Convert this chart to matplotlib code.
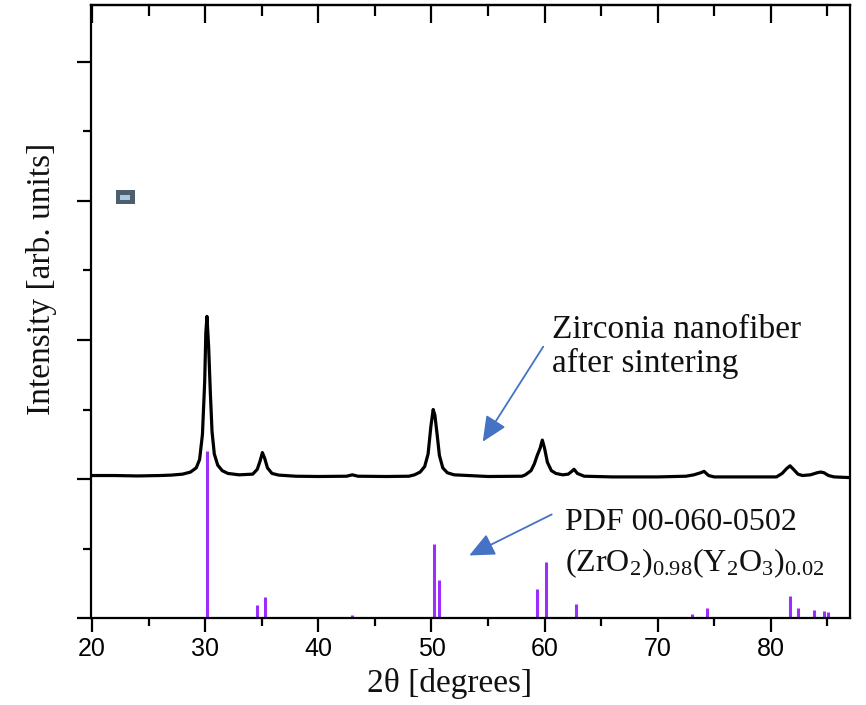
import matplotlib

matplotlib.use("Agg")
import matplotlib.pyplot as plt  # noqa: E402
from matplotlib.patches import Rectangle  # noqa: E402
from matplotlib.ticker import MultipleLocator  # noqa: E402

two_theta = [
    19.9, 22.0, 24.0, 26.0, 27.0, 28.0, 28.7, 29.2, 29.5, 29.75, 29.95, 30.05,
    30.15, 30.3, 30.45, 30.6, 30.8, 31.1, 31.5, 32.0, 33.0, 34.2, 34.6, 34.85,
    35.05, 35.25, 35.5, 35.9, 36.5, 38.0, 40.0, 42.5, 43.0, 43.5, 46.0, 48.0,
    48.5, 49.0, 49.4, 49.7, 49.95, 50.15, 50.3, 50.5, 50.7, 51.0, 51.4, 52.0,
    55.0, 58.0, 58.3, 58.8, 59.1, 59.35, 59.6, 59.8, 60.0, 60.25, 60.6, 61.0,
    61.6, 62.1, 62.4, 62.6, 62.9, 63.5, 66.0, 70.0, 72.5, 73.2, 73.8, 74.1,
    74.5, 75.0, 78.0, 80.5, 81.0, 81.4, 81.7, 82.0, 82.4, 82.8, 83.5, 84.1,
    84.4, 84.7, 85.1, 85.6, 87.0,
]
intensity = [
    1.025, 1.025, 1.022, 1.025, 1.028, 1.035, 1.05, 1.08, 1.14, 1.32, 1.70, 2.05,
    2.17, 1.95, 1.62, 1.34, 1.18, 1.10, 1.06, 1.04, 1.03, 1.035, 1.07, 1.13,
    1.19, 1.15, 1.08, 1.04, 1.028, 1.02, 1.018, 1.02, 1.03, 1.02, 1.018, 1.02,
    1.03, 1.05, 1.09, 1.18, 1.38, 1.50, 1.46, 1.32, 1.17, 1.08, 1.045, 1.03,
    1.018, 1.02, 1.03, 1.06, 1.11, 1.17, 1.22, 1.28, 1.22, 1.12, 1.06, 1.04,
    1.03, 1.035, 1.055, 1.07, 1.04, 1.02, 1.015, 1.015, 1.02, 1.03, 1.045, 1.055,
    1.025, 1.015, 1.015, 1.015, 1.04, 1.075, 1.095, 1.07, 1.035, 1.025, 1.03, 1.045,
    1.05, 1.045, 1.025, 1.015, 1.01,
]

# Reference pattern PDF 00-060-0502 stick positions and heights
pdf_pos = [30.15, 34.6, 35.3, 43.0, 50.25, 50.7, 59.3, 60.1, 62.8, 73.0,
           74.4, 81.7, 82.4, 83.8, 84.7, 85.1]
pdf_height = [1.20, 0.09, 0.15, 0.02, 0.53, 0.27, 0.21, 0.40, 0.10, 0.03,
              0.07, 0.16, 0.07, 0.06, 0.05, 0.04]

serif = ["Liberation Serif", "DejaVu Serif"]
sans = ["Liberation Sans Narrow", "Liberation Sans", "DejaVu Sans"]
plt.rcParams["mathtext.fontset"] = "custom"
plt.rcParams["mathtext.rm"] = "Liberation Serif"
plt.rcParams["mathtext.it"] = "Liberation Serif:italic"

arrow_blue = "#4472c4"
text_col = "#111111"

fig = plt.figure(figsize=(8.66, 7.05), dpi=100)
ax = fig.add_axes([0.1051, 0.1234, 0.8764, 0.8695])

ax.vlines(pdf_pos, 0, pdf_height, color="#9b2dff", linewidth=2.2)
ax.plot(two_theta, intensity, color="black", linewidth=2.3,
        solid_joinstyle="round")

ax.set_xlim(19.9, 87.0)
ax.set_ylim(0, 4.41)

ax.xaxis.set_major_locator(MultipleLocator(10))
ax.xaxis.set_minor_locator(MultipleLocator(5))
ax.yaxis.set_major_locator(MultipleLocator(1))
ax.yaxis.set_minor_locator(MultipleLocator(0.5))
ax.tick_params(axis="both", which="major", direction="out", length=10, width=1.6)
ax.tick_params(axis="both", which="minor", direction="out", length=6, width=1.6)
ax.tick_params(axis="y", labelleft=False, right=False)
ax.tick_params(axis="x", labelsize=18, pad=4)
for lab in ax.get_xticklabels():
    lab.set_family(sans)

top = ax.secondary_xaxis("top")
top.xaxis.set_major_locator(MultipleLocator(10))
top.xaxis.set_minor_locator(MultipleLocator(5))
top.tick_params(which="major", direction="in", length=13, width=1.6, labeltop=False)
top.tick_params(which="minor", direction="in", length=8, width=1.6)

for sp in ax.spines.values():
    sp.set_linewidth(1.6)
top.spines["top"].set_linewidth(1.6)

ax.set_xlabel("2θ [degrees]", family=serif, fontsize=24, color=text_col)
ax.xaxis.set_label_coords(0.473, -0.082)
ax.set_ylabel("Intensity [arb. units]", family=serif, fontsize=24, color=text_col)
ax.yaxis.set_label_coords(-0.045, 0.553)

# stray legend marker in the original
ax.add_patch(Rectangle((22.1, 2.978), 1.69, 0.101, facecolor="#4d5e6c",
                       edgecolor="none", zorder=3))
ax.add_patch(Rectangle((22.5, 3.01), 0.88, 0.036, facecolor="#a9c9e2",
                       edgecolor="none", zorder=4))

arrow = dict(arrowstyle="-|>,head_length=1.1,head_width=0.5", color=arrow_blue,
             lw=1.3, shrinkA=0, shrinkB=0, mutation_scale=14)
ax.annotate("", xy=(54.53, 1.268), xytext=(59.88, 1.952), arrowprops=arrow)
ax.annotate("", xy=(53.34, 0.450), xytext=(60.63, 0.745), arrowprops=arrow)

ax.text(60.63, 2.012, "Zirconia nanofiber", family=serif, fontsize=24,
        va="baseline", color=text_col)
ax.text(60.63, 1.772, "after sintering", family=serif, fontsize=24,
        va="baseline", color=text_col)
ax.text(61.8, 0.633, "PDF 00-060-0502", family=serif, fontsize=23,
        va="baseline", color=text_col)
ax.text(61.8, 0.333, r"(ZrO$_2$)$_{0.98}$(Y$_2$O$_3$)$_{0.02}$", family=serif,
        fontsize=23, va="baseline", color=text_col)

fig.savefig("out.png")
plt.close(fig)
